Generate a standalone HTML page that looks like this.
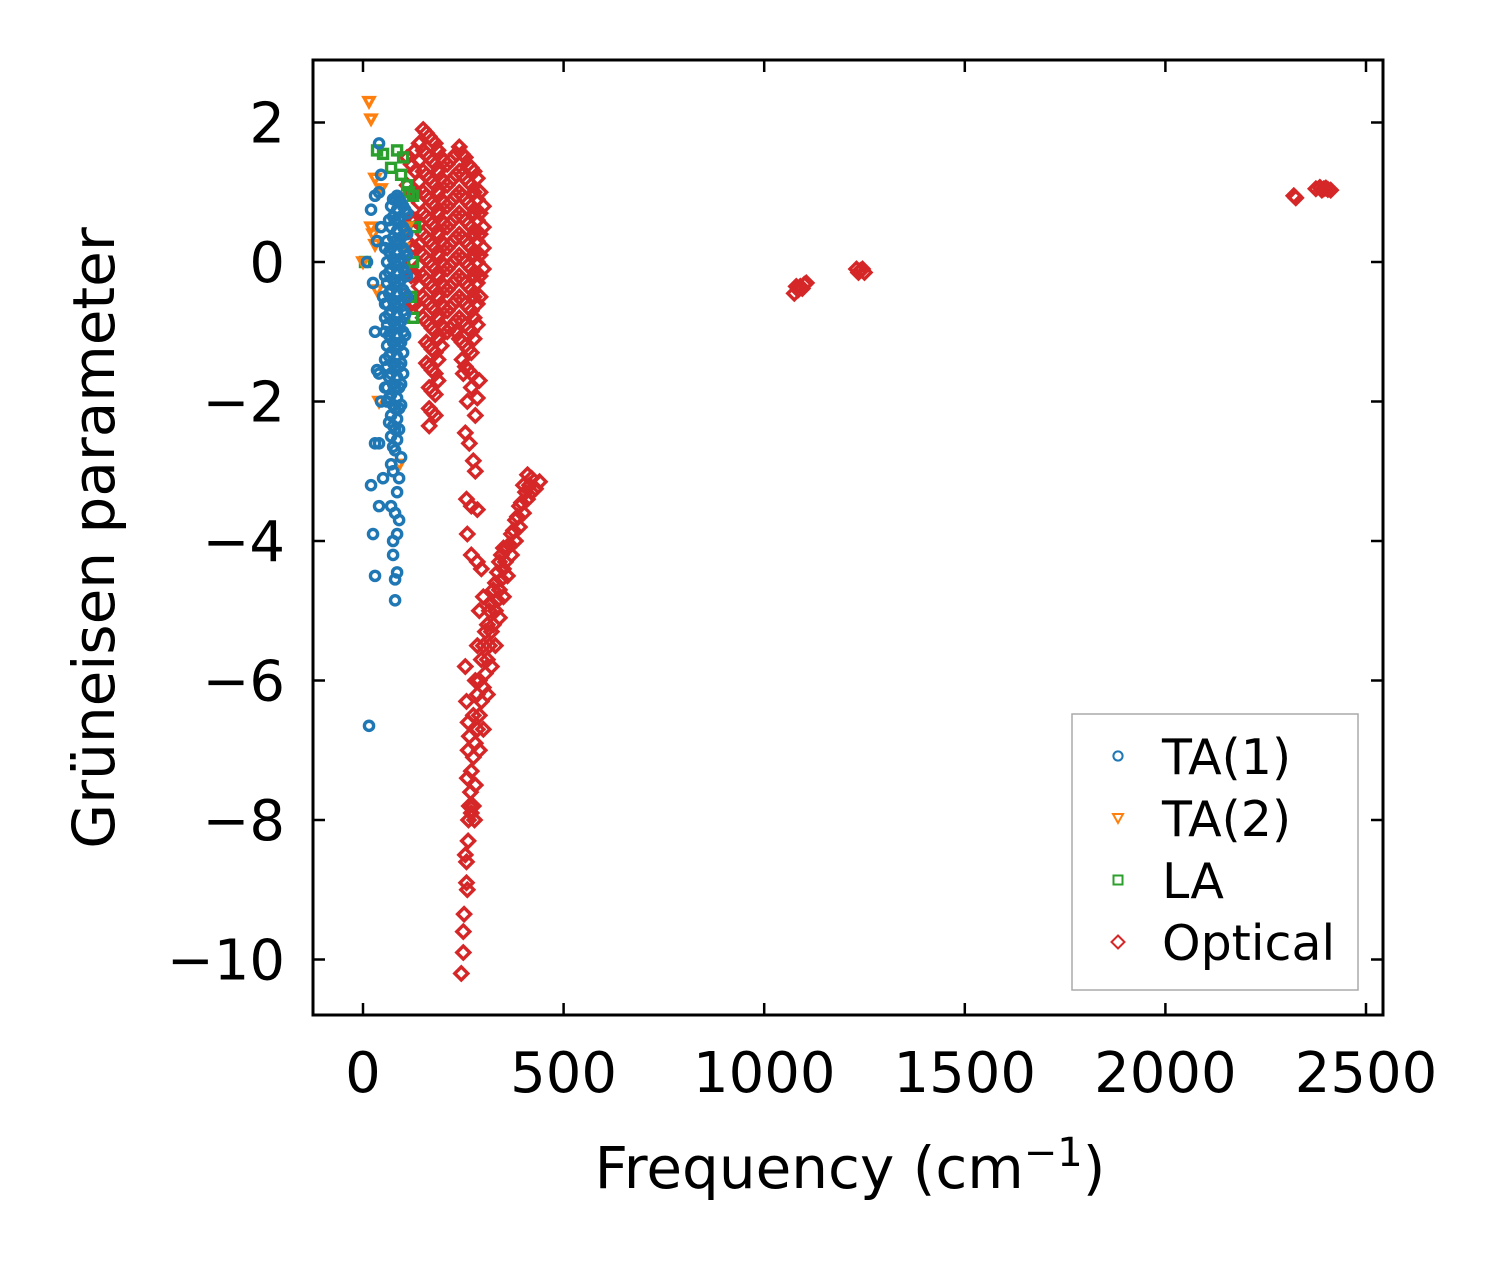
<!DOCTYPE html>
<html><head><meta charset="utf-8"><style>
body{margin:0;background:#fff}
svg text{font-family:"DejaVu Sans","Liberation Sans",sans-serif;fill:#000}
</style></head><body>
<svg id="chart" width="1501" height="1264" viewBox="0 0 1501 1264" xmlns="http://www.w3.org/2000/svg">
<rect width="1501" height="1264" fill="#fff"/>
<g id="marks"></g>
<g id="axes"></g>
</svg>
<script>
const xTicks=[0,500,1000,1500,2000,2500];
const yTicks=[2,0,-2,-4,-6,-8,-10];
const yTickLabels=["2","0","\u22122","\u22124","\u22126","\u22128","\u221210"];
const ta1Cols=[
[55,[0.2,-0.2,-0.6,-1.0,-1.4,-1.8]],
[60,[0.3,0,-0.3,-0.6,-0.9,-1.2,-1.5,-1.8,-2.0]],
[65,[0.6,0.15,-0.15,-0.45,-0.75,-1.05,-1.35,-1.65,-1.95,-2.3]],
[70,[0.8,0.5,0.2,-0.1,-0.4,-0.7,-1.0,-1.3,-1.6,-1.9,-2.2,-2.5]],
[75,[0.9,0.65,0.35,0.05,-0.25,-0.55,-0.85,-1.15,-1.45,-1.75,-2.05,-2.35,-2.65]],
[80,[0.9,0.6,0.3,0,-0.3,-0.6,-0.9,-1.2,-1.5,-1.8,-2.1,-2.4,-2.7]],
[85,[0.95,0.75,0.45,0.15,-0.15,-0.45,-0.75,-1.05,-1.35,-1.65,-1.95,-2.25,-2.55]],
[90,[0.9,0.6,0.3,0,-0.3,-0.6,-0.9,-1.2,-1.5,-1.8,-2.1,-2.4]],
[95,[0.85,0.65,0.35,0.05,-0.25,-0.55,-0.85,-1.15,-1.45,-1.75,-2.05]],
[100,[0.8,0.5,0.2,-0.1,-0.4,-0.7,-1.0,-1.3,-1.6]],
[105,[0.75,0.45,0.15,-0.15,-0.45,-0.75,-1.05]],
[110,[0.7,0.4,0.1,-0.2,-0.5]]];
const ta1Extra=[[40,1.7],[45,1.25],[40,1.0],[20,0.75],[30,0.95],[35,0.3],[25,-0.3],[30,-1.0],[35,-1.55],[40,-1.6],[45,-2.0],[30,-2.6],[40,-2.6],[50,-3.1],[20,-3.2],[40,-3.5],[25,-3.9],[70,-3.5],[75,-4.0],[75,-4.2],[85,-4.45],[80,-4.55],[80,-4.85],[30,-4.5],[15,-6.65],[90,-3.7],[85,-3.3],[75,-3.0],[95,-2.8],[55,-0.8],[50,-0.5],[45,0.5],[10,0],[80,-3.6],[85,-3.9],[90,-3.1],[70,-2.9]];
const ta2=[[15,2.3],[20,2.05],[30,1.2],[45,1.05],[20,0.5],[25,0.4],[0,0],[30,0.25],[35,-0.4],[40,-2.0],[90,-2.9],[100,0.2],[110,0.5]];
const la=[[35,1.6],[50,1.55],[85,1.6],[100,1.5],[70,1.35],[95,1.25],[110,1.1],[115,1.0],[125,0.95],[130,0.5],[125,0.0],[120,-0.5],[125,-0.8],[5,0],[90,0.9]];
const opticalCols=[
[110,[1.5,1.1,0.7,0.3,-0.1,-0.5]],
[120,[1.4,1.0,0.6,0.2,-0.2,-0.6]],
[130,[1.6,1.3,1.0,0.6,0.2,-0.2,-0.6]],
[140,[1.7,1.45,1.15,0.85,0.55,0.25,-0.05,-0.35,-0.65]],
[150,[1.9,1.6,1.3,1.0,0.7,0.4,0.1,-0.2,-0.5,-0.8]],
[158,[1.85,1.55,1.25,0.95,0.65,0.35,0.05,-0.25,-0.55,-0.85,-1.15,-1.45]],
[165,[1.8,1.5,1.2,0.9,0.6,0.3,0,-0.3,-0.6,-0.9,-1.2,-1.5,-1.8,-2.1,-2.35]],
[172,[1.75,1.45,1.15,0.85,0.55,0.25,-0.05,-0.35,-0.65,-0.95,-1.25,-1.55,-1.85,-2.15]],
[180,[1.7,1.4,1.1,0.8,0.5,0.2,-0.1,-0.4,-0.7,-1.0,-1.3,-1.6,-1.9,-2.2]],
[187,[1.6,1.3,1.0,0.7,0.4,0.1,-0.2,-0.5,-0.8,-1.1,-1.4,-1.7]],
[195,[1.5,1.2,0.9,0.6,0.3,0,-0.3,-0.6,-0.9,-1.2]],
[202,[1.45,1.15,0.85,0.55,0.25,-0.05,-0.35,-0.65,-0.95]],
[210,[1.4,1.1,0.8,0.5,0.2,-0.1,-0.4,-0.7,-1.0]],
[217,[1.45,1.15,0.85,0.55,0.25,-0.05,-0.35,-0.65,-0.95]],
[225,[1.5,1.2,0.9,0.6,0.3,0,-0.3,-0.6,-0.9]],
[232,[1.55,1.25,0.95,0.65,0.35,0.05,-0.25,-0.55,-0.85,-1.0]],
[240,[1.65,1.3,1.0,0.7,0.4,0.1,-0.2,-0.5,-0.8,-1.1]],
[247,[1.55,1.25,0.95,0.65,0.35,0.05,-0.25,-0.55,-0.85,-1.15,-1.4]],
[255,[1.5,1.2,0.9,0.6,0.3,0,-0.3,-0.6,-0.9,-1.2,-1.5]],
[262,[1.4,1.15,0.85,0.55,0.25,-0.05,-0.35,-0.65,-0.95,-1.25,-1.55]],
[270,[1.35,1.1,0.8,0.5,0.2,-0.1,-0.4,-0.7,-1.0,-1.3,-1.6]],
[277,[1.3,1.0,0.7,0.4,0.1,-0.2,-0.5,-0.8,-1.1]],
[285,[1.2,0.9,0.6,0.3,0,-0.3,-0.6,-0.9]],
[292,[1.0,0.7,0.4,0.1,-0.2,-0.5]],
[300,[0.8,0.5,0.2,-0.1]]];
const opticalExtra=[
[250,-1.6],[260,-2.0],[270,-1.8],[280,-2.2],[285,-1.95],[290,-1.7],[255,-2.45],[265,-2.6],[275,-2.85],[280,-3.0],[258,-3.4],[270,-3.5],[285,-3.55],[260,-3.9],[270,-4.2],
[255,-5.8],[258,-6.3],[262,-7.0],[260,-7.4],[265,-7.8],[262,-8.3],[255,-8.5],[258,-8.9],[260,-9.0],[252,-9.35],[250,-9.6],[250,-9.9],[245,-10.2],[263,-8.0],[268,-7.6],[258,-8.6],[262,-6.6],[265,-6.8],
[270,-7.9],[270,-7.3],[280,-7.5],[280,-6.9],[290,-7.0],[290,-6.5],[290,-6.0],[300,-6.7],[300,-6.1],[300,-5.5],[310,-6.2],[310,-5.7],[310,-5.2],[320,-5.8],[320,-5.3],[320,-4.9],[330,-5.5],[330,-5.0],[330,-4.6],[340,-5.1],[340,-4.7],[340,-4.3],[350,-4.8],[350,-4.4],[350,-4.1],[360,-4.5],[360,-4.1],[370,-4.2],[370,-3.9],[380,-4.0],[380,-3.7],[390,-3.8],[390,-3.5],[400,-3.6],[400,-3.2],[410,-3.4],[410,-3.05],[420,-3.3],[420,-3.1],[430,-3.25],[440,-3.15],
[275,-7.1],[285,-6.7],[295,-6.3],[305,-5.9],[315,-5.5],[325,-5.2],[335,-4.85],[345,-4.55],[355,-4.3],[365,-4.05],[375,-3.85],[385,-3.65],[395,-3.45],[405,-3.3],[415,-3.2],[285,-6.2],[295,-5.7],[305,-5.3],[315,-5.0],[325,-4.7],[335,-4.45],[345,-4.2],
[275,-6.5],[280,-6.0],[285,-5.5],[290,-5.0],[300,-4.8],[295,-4.4],[285,-4.3],[275,-7.8],[278,-8.0],
[1075,-0.45],[1085,-0.4],[1090,-0.35],[1100,-0.32],[1105,-0.3],[1080,-0.35],[1095,-0.38],[1230,-0.1],[1240,-0.12],[1250,-0.15],[1235,-0.15],[1245,-0.1],
[2320,0.95],[2325,0.92],[2375,1.05],[2385,1.07],[2395,1.05],[2405,1.04],[2412,1.03],[2390,1.03],[2400,1.06]];

const L=313,R=1383,T=60,B=1015;
const sx=f=>363+f*0.4012;
const sy=g=>262-g*69.75;
const NS="http://www.w3.org/2000/svg";
const marks=document.getElementById('marks'),axes=document.getElementById('axes');
function mk(tag,attrs,parent){const e=document.createElementNS(NS,tag);for(const k in attrs)e.setAttribute(k,attrs[k]);parent.appendChild(e);return e;}
function marker(kind,x,y,color,parent,sw){
  let e;
  if(kind==='o') e=mk('circle',{cx:x,cy:y,r:4.6,fill:'none',stroke:color,'stroke-width':sw},parent);
  else if(kind==='v') e=mk('polygon',{points:`${x-5},${y-4} ${x+5},${y-4} ${x},${y+5}`,fill:'none',stroke:color,'stroke-width':sw},parent);
  else if(kind==='s') e=mk('rect',{x:x-4.5,y:y-4.5,width:9,height:9,fill:'none',stroke:color,'stroke-width':sw},parent);
  else e=mk('polygon',{points:`${x},${y-6.5} ${x+6.5},${y} ${x},${y+6.5} ${x-6.5},${y}`,fill:'none',stroke:color,'stroke-width':sw},parent);
  return e;
}
function flat(cols,extra){const out=[];cols.forEach(c=>c[1].forEach(g=>out.push([c[0],g])));return out.concat(extra);}
const optical=flat(opticalCols,opticalExtra);
const ta1=flat(ta1Cols,ta1Extra);
const series=[['optical',optical,'d','#d62728'],['la',la,'s','#2ca02c'],['ta2',ta2,'v','#ff7f0e'],['ta1',ta1,'o','#1f77b4']];
series.forEach(([nm,arr,k,c])=>{
  const g=mk('g',{},marks);
  
  
  arr.forEach(p=>{
    const e=marker(k,sx(p[0]),sy(p[1]),c,g,3.4);
    
    
  });
});
const fr=mk('rect',{x:L,y:T,width:R-L,height:B-T,fill:'none',stroke:'#000','stroke-width':3},axes);


xTicks.forEach(v=>{
  const x=sx(v);
  mk('line',{x1:x,y1:B,x2:x,y2:B-12,stroke:'#000','stroke-width':2.5},axes);
  mk('line',{x1:x,y1:T,x2:x,y2:T+12,stroke:'#000','stroke-width':2.5},axes);
  const t=mk('text',{x:x,y:1092,'font-size':56,'text-anchor':'middle'},axes);
  t.textContent=v;
  
  
});
yTicks.forEach((v,i)=>{
  const y=sy(v);
  mk('line',{x1:L,y1:y,x2:L+12,y2:y,stroke:'#000','stroke-width':2.5},axes);
  mk('line',{x1:R,y1:y,x2:R-12,y2:y,stroke:'#000','stroke-width':2.5},axes);
  const t=mk('text',{x:285,y:y+20,'font-size':56,'text-anchor':'end'},axes);
  t.textContent=yTickLabels[i];
  
  
});
const xt=mk('text',{x:850,y:1188,'font-size':58,'text-anchor':'middle'},axes);
xt.innerHTML='Frequency (cm<tspan dy="-22" font-size="40">\u22121</tspan><tspan dy="22">)</tspan>';


const yt=mk('text',{x:0,y:0,'font-size':58,'text-anchor':'middle',transform:'translate(114,538) rotate(-90)'},axes);
yt.textContent='Grüneisen parameter';


const lg=mk('g',{},axes);


mk('rect',{x:1072,y:714,width:286,height:276,fill:'#fff',stroke:'#aaa','stroke-width':1.5},lg);
const legendLabels=['TA(1)','TA(2)','LA','Optical'];
const legendKinds=[['o','#1f77b4'],['v','#ff7f0e'],['s','#2ca02c'],['d','#d62728']];
legendLabels.forEach((lab,i)=>{
  const y=756+i*62;
  const e=marker(legendKinds[i][0],1118,y,legendKinds[i][1],lg,2);
  
  
  const t=mk('text',{x:1162,y:y+18,'font-size':49},lg);
  t.textContent=lab;
  
  
});
</script>
</body></html>
